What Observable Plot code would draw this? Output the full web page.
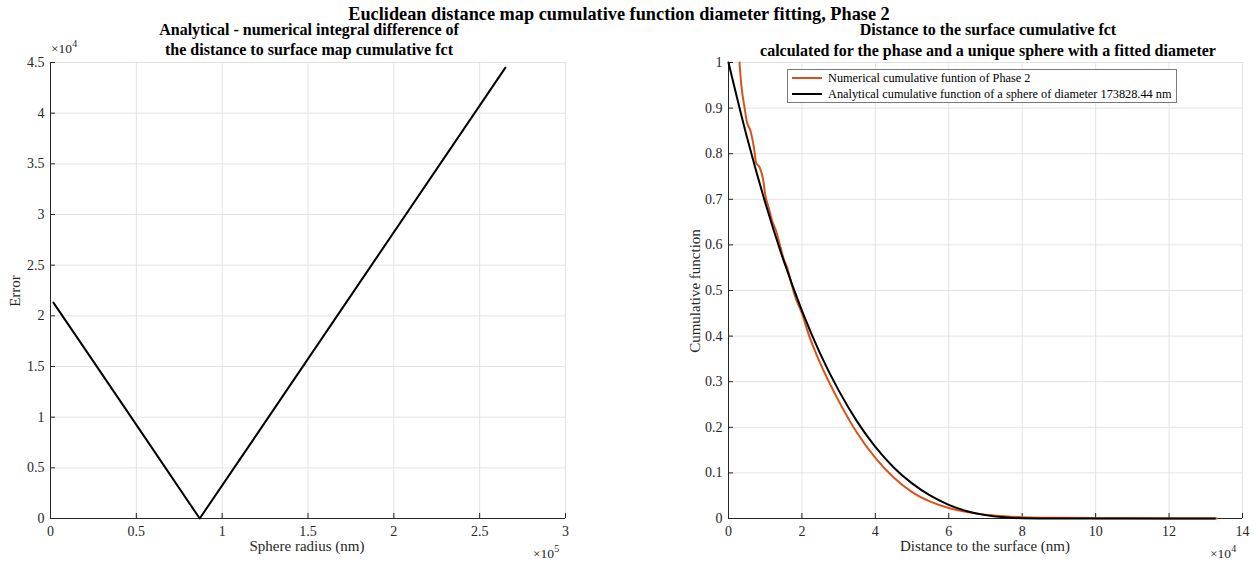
<!DOCTYPE html>
<html>
<head>
<meta charset="utf-8">
<script src="https://cdn.jsdelivr.net/npm/d3@7"></script>
<script src="https://cdn.jsdelivr.net/npm/@observablehq/plot@0.6"></script>
<style>
  body { margin: 0; background: #fff; }
  #root { position: relative; width: 1255px; height: 564px; overflow: hidden; font-family: "Liberation Serif", serif; color: #262626; }
  #root svg text { font-size: 14px; font-family: "Liberation Serif", serif; fill: #262626; }
  .abs { position: absolute; white-space: nowrap; }
  .title { font-weight: bold; color: #000; }
  .center { transform: translateX(-50%); text-align: center; }
  sup { font-size: 10px; }
</style>
</head>
<body>
<div id="root"></div>
<script>
// ---- Left panel data: error vs sphere radius ----
const radiusNm = [1700, 30000, 60000, 86914, 120000, 180000, 265000];
const errorVal = [21300, 14250, 6750, 0, 8250, 23250, 44500];
const leftXTicks = [0, 50000, 100000, 150000, 200000, 250000, 300000];
const leftYTicks = [0, 5000, 10000, 15000, 20000, 25000, 30000, 35000, 40000, 45000];

// ---- Right panel data: cumulative functions ----
const numDist = [3000, 3500, 4400, 5000, 6000, 7000, 7500, 8500, 9500, 10000, 11000, 12000, 13000, 14000, 15000, 16000, 17000, 18000, 20000, 22000, 25000, 30000, 35000, 40000, 45000, 50000, 55000, 60000, 65000, 70000, 75000, 80000, 90000, 100000, 110000, 120000, 133000];
const numCum  = [1.0, 0.95, 0.9, 0.87, 0.85, 0.81, 0.78, 0.77, 0.74, 0.71, 0.68, 0.65, 0.63, 0.60, 0.57, 0.55, 0.52, 0.49, 0.45, 0.40, 0.34, 0.258, 0.188, 0.133, 0.09, 0.058, 0.037, 0.023, 0.014, 0.008, 0.005, 0.003, 0.0015, 0.0008, 0.0004, 0.0002, 0.0001];
const anaDist = [0, 5000, 10000, 15000, 20000, 25000, 30000, 35000, 40000, 45000, 50000, 55000, 60000, 65000, 70000, 75000, 80000, 86914, 132500];
const anaCum  = [1.0, 0.837, 0.693, 0.566, 0.456, 0.361, 0.281, 0.213, 0.157, 0.112, 0.077, 0.05, 0.03, 0.016, 0.0074, 0.0026, 0.0005, 0, 0];
const rightXTicks = [0, 20000, 40000, 60000, 80000, 100000, 120000, 140000];
const rightYTicks = [0, 0.1, 0.2, 0.3, 0.4, 0.5, 0.6, 0.7, 0.8, 0.9, 1];

const fmt = v => String(+v.toFixed(2));
const root = document.getElementById("root");
const H = 564, MT = 62, MB = 46;
const innerH = H - MT - MB;
const axisColor = "#262626", gridColor = "#e3e3e3";

function panel({w, ml, mr, xDomain, yDomain, xTicks, yTicks, xFmt, yFmt, lines}) {
  const innerW = w - ml - mr;
  return Plot.plot({
    width: w, height: H,
    marginLeft: ml, marginRight: mr, marginTop: MT, marginBottom: MB,
    style: {fontFamily: "Liberation Serif", fontSize: "14px", color: axisColor, background: "transparent", overflow: "visible"},
    x: {domain: xDomain},
    y: {domain: yDomain},
    marks: [
      Plot.ruleX(xTicks, {x: d => d, stroke: gridColor, strokeWidth: 1}),
      Plot.ruleY(yTicks, {y: d => d, stroke: gridColor, strokeWidth: 1}),
      Plot.axisX(xTicks, {tickSize: 0, tickPadding: 8, tickFormat: xFmt, label: null}),
      Plot.axisY(yTicks, {tickSize: 0, tickPadding: 6, tickFormat: yFmt, label: null}),
      Plot.tickX(xTicks, {x: d => d, insetTop: innerH - 5, stroke: axisColor}),
      Plot.tickY(yTicks, {y: d => d, insetRight: innerW - 5, stroke: axisColor}),
      Plot.ruleY([yDomain[0]], {stroke: axisColor, strokeWidth: 1}),
      Plot.ruleX([xDomain[0]], {stroke: axisColor, strokeWidth: 1}),
      ...lines
    ]
  });
}

// Left panel
const left = panel({
  w: 620, ml: 50, mr: 55,
  xDomain: [0, 300000], yDomain: [0, 45000],
  xTicks: leftXTicks, yTicks: leftYTicks,
  xFmt: d => fmt(d / 1e5), yFmt: d => fmt(d / 1e4),
  lines: [
    Plot.line(radiusNm.map((r, i) => ({r, e: errorVal[i]})), {x: "r", y: "e", stroke: "#000", strokeWidth: 2})
  ]
});
left.style.position = "absolute"; left.style.left = "0px"; left.style.top = "0px";
root.appendChild(left);

// Right panel
const right = panel({
  w: 627, ml: 100, mr: 13,
  xDomain: [0, 140000], yDomain: [0, 1],
  xTicks: rightXTicks, yTicks: rightYTicks,
  xFmt: d => fmt(d / 1e4), yFmt: d => fmt(d),
  lines: [
    Plot.line(numDist.map((x, i) => ({x, y: numCum[i]})), {x: "x", y: "y", stroke: "#D95319", strokeWidth: 2, curve: "monotone-x"}),
    Plot.line(anaDist.map((x, i) => ({x, y: anaCum[i]})), {x: "x", y: "y", stroke: "#000", strokeWidth: 2, curve: "monotone-x"})
  ]
});
right.style.position = "absolute"; right.style.left = "628px"; right.style.top = "0px";
root.appendChild(right);

// Text elements
function addText(html, css, cls) {
  const d = document.createElement("div");
  d.className = "abs " + (cls || "");
  d.innerHTML = html;
  Object.assign(d.style, css);
  root.appendChild(d);
  return d;
}
addText("Euclidean distance map cumulative function diameter fitting, Phase 2", {left: "619px", top: "4px", fontSize: "18.3px", lineHeight: "21px"}, "title center");
addText("Analytical - numerical integral difference of<br>the distance to surface map cumulative fct", {left: "309px", top: "20px", fontSize: "16px", lineHeight: "20px"}, "title center");
addText("Distance to the surface cumulative fct<br>calculated for the phase and a unique sphere with a fitted diameter", {left: "988px", top: "19px", fontSize: "16px", lineHeight: "21px"}, "title center");

addText("Sphere radius (nm)", {left: "307px", top: "538px", fontSize: "15px"}, "center");
addText("Distance to the surface (nm)", {left: "985px", top: "538px", fontSize: "15px"}, "center");
addText("&times;10<sup>5</sup>", {left: "533px", top: "543px", fontSize: "13.5px"});
addText("&times;10<sup>4</sup>", {left: "1210px", top: "543px", fontSize: "13.5px"});
addText("&times;10<sup>4</sup>", {left: "51px", top: "38px", fontSize: "13.5px"});

const yl1 = addText("Error", {left: "15px", top: "291px", fontSize: "15px"});
yl1.style.transform = "translate(-50%,-50%) rotate(-90deg)";
const yl2 = addText("Cumulative function", {left: "695px", top: "291px", fontSize: "15px"});
yl2.style.transform = "translate(-50%,-50%) rotate(-90deg)";

// Legend
const leg = addText(
  '<div style="display:flex;align-items:center;height:16px"><span style="display:inline-block;width:30px;height:2px;background:#D95319;margin:0 6px 0 4px"></span>Numerical cumulative funtion of Phase 2</div>' +
  '<div style="display:flex;align-items:center;height:16px"><span style="display:inline-block;width:30px;height:2px;background:#000;margin:0 6px 0 4px"></span>Analytical cumulative function of a sphere of diameter 173828.44 nm</div>',
  {left: "787px", top: "69px", width: "390px", height: "34px", border: "1px solid #7a7a7a", background: "#fff", fontSize: "12.3px", color: "#000", boxSizing: "border-box", paddingTop: "0px"}
);
</script>
</body>
</html>
